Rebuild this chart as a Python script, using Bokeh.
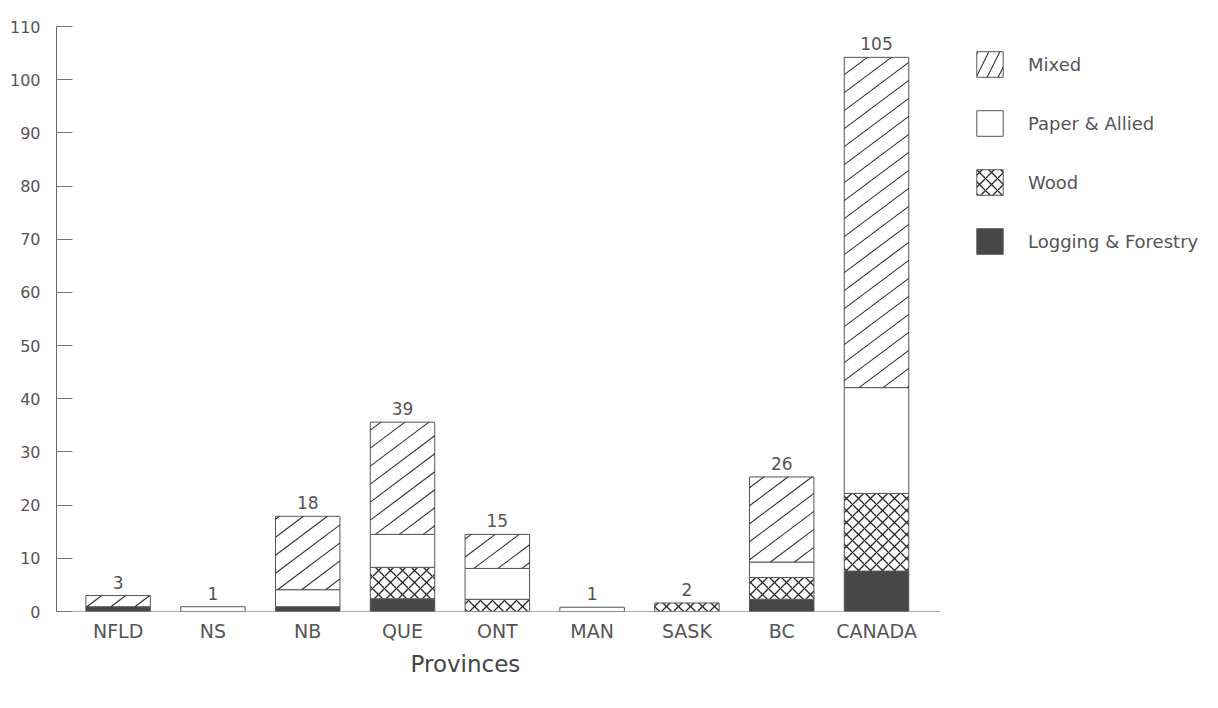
import math
from bokeh.plotting import figure
from bokeh.models import Range1d, FixedTicker, Legend, LegendItem, ColumnDataSource, Title
from bokeh.core.properties import value
from bokeh.embed import file_html
from bokeh.resources import INLINE

# ---- data ----
provinces = ["NFLD", "NS", "NB", "QUE", "ONT", "MAN", "SASK", "BC", "CANADA"]
logging_forestry = [0.9, 0.0, 0.9, 2.4, 0.0, 0.0, 0.0, 2.3, 7.6]
wood = [0.0, 0.0, 0.0, 5.9, 2.3, 0.0, 1.6, 4.1, 14.6]
paper_allied = [0.0, 0.9, 3.2, 6.2, 5.8, 0.8, 0.0, 2.9, 19.9]
mixed = [2.1, 0.0, 13.8, 21.1, 6.4, 0.0, 0.0, 16.0, 62.1]
total_labels = ["3", "1", "18", "39", "15", "1", "2", "26", "105"]
y_ticks = list(range(0, 111, 10))
series_names = ["Logging & Forestry", "Wood", "Paper & Allied", "Mixed"]
legend_order = ["Mixed", "Paper & Allied", "Wood", "Logging & Forestry"]
x_title = "Provinces"

# ---- layout / style constants ----
FONT = "DejaVu Sans"
TXT = "#555555"
LINE = "#555555"
HATCH = "#333333"
FIG_W, FIG_H = 1216, 690
B_LEFT, B_RIGHT, B_TOP, B_BOTTOM = 56, 4, 26, 79
X_START = -0.65
AXIS_END = 8.675                     # where the drawn x-axis line stops
AXIS_LEN_PX = 884                    # on-screen length of that line
PX_X = AXIS_LEN_PX / (AXIS_END - X_START)
X_END = X_START + (FIG_W - B_LEFT - B_RIGHT) / PX_X
Y_START, Y_END = 0, 110
BAR_W = 0.68
HATCH_SLOPE = 0.75      # screen slope of the "Mixed" hatch lines
HATCH_STEP = 18         # vertical spacing of hatch lines, px

p = figure(width=FIG_W, height=FIG_H, output_backend="svg", toolbar_location=None,
           x_range=Range1d(X_START, X_END), y_range=Range1d(Y_START, Y_END),
           min_border_left=B_LEFT, min_border_right=B_RIGHT, min_border_top=B_TOP,
           min_border_bottom=B_BOTTOM)
p.outline_line_color = None
p.xgrid.visible = False
p.ygrid.visible = False
p.background_fill_color = "white"

styles = {
    "Logging & Forestry": dict(fill_color="#474747"),
    "Wood": dict(fill_color="white", hatch_pattern="diagonal_cross", hatch_scale=12,
                 hatch_color="#2a2a2a", hatch_weight=1.3),
    "Paper & Allied": dict(fill_color="white"),
    "Mixed": dict(fill_color="white"),
}

# x-axis base line (stops short of the legend area)
p.segment(x0=[X_START], y0=[Y_START], x1=[AXIS_END], y1=[Y_START],
          line_color="#666666", line_width=1)

series = [logging_forestry, wood, paper_allied, mixed]
xs = list(range(len(provinces)))
bottom = [0.0] * len(provinces)
renderers = {}
sources = {}
for name, vals in zip(series_names, series):
    bx, bb, bt = [], [], []
    for i, v in enumerate(vals):
        if v > 0:
            bx.append(xs[i]); bb.append(bottom[i]); bt.append(bottom[i] + v)
    src = ColumnDataSource(dict(x=bx, bottom=bb, top=bt))
    sources[name] = src
    r = p.vbar(x="x", bottom="bottom", top="top", width=BAR_W, source=src,
               line_color=LINE, line_width=1, **styles[name])
    renderers[name] = r
    bottom = [b + v for b, v in zip(bottom, vals)]

# ---- "Mixed" hatching: gentle "/" lines clipped to each Mixed bar ----
px_y = (FIG_H - B_TOP - B_BOTTOM) / (Y_END - Y_START)
msrc = sources["Mixed"].data
hx0, hy0, hx1, hy1 = [], [], [], []
for x, b, t in zip(msrc["x"], msrc["bottom"], msrc["top"]):
    xl = (x - BAR_W / 2 - X_START) * PX_X
    xr = (x + BAR_W / 2 - X_START) * PX_X
    yb = (b - Y_START) * px_y
    yt = (t - Y_START) * px_y
    cmin = yb - HATCH_SLOPE * xr
    cmax = yt - HATCH_SLOPE * xl
    k = math.ceil(cmin / HATCH_STEP)
    while k * HATCH_STEP < cmax:
        c = k * HATCH_STEP
        xa = max(xl, (yb - c) / HATCH_SLOPE)
        xb = min(xr, (yt - c) / HATCH_SLOPE)
        if xb - xa > 0.5:
            hx0.append(xa / PX_X + X_START); hy0.append((HATCH_SLOPE * xa + c) / px_y + Y_START)
            hx1.append(xb / PX_X + X_START); hy1.append((HATCH_SLOPE * xb + c) / px_y + Y_START)
        k += 1
p.segment(x0=hx0, y0=hy0, x1=hx1, y1=hy1, line_color=HATCH, line_width=1.1)

# legend swatch for "Mixed" (same bars, hidden, drawn with a diagonal hatch)
mixed_key = p.vbar(x="x", bottom="bottom", top="top", width=BAR_W, source=sources["Mixed"],
                   fill_color="white", line_color=LINE, line_width=1,
                   hatch_pattern="/", hatch_scale=22, hatch_color=HATCH, hatch_weight=1.1,
                   visible=False)
legend_renderers = dict(renderers)
legend_renderers["Mixed"] = mixed_key

# total labels above the bars
lab_src = ColumnDataSource(dict(x=xs, y=bottom, t=total_labels))
p.text(x="x", y="y", text="t", source=lab_src, text_align="center",
       text_baseline="bottom", y_offset=-7, text_font=value(FONT),
       text_font_size="17px", text_color=TXT)

# axes
p.yaxis.ticker = FixedTicker(ticks=y_ticks)
p.yaxis.major_tick_in = 16
p.yaxis.major_tick_out = 0
p.yaxis.minor_tick_line_color = None
p.yaxis.major_label_standoff = 16
p.yaxis.major_label_text_font = FONT
p.yaxis.major_label_text_font_size = "16px"
p.yaxis.major_label_text_color = TXT
p.yaxis.axis_line_color = "#666666"
p.yaxis.major_tick_line_color = "#777777"

p.xaxis.ticker = FixedTicker(ticks=xs)
p.xaxis.major_label_overrides = {i: n for i, n in enumerate(provinces)}
p.xaxis.axis_line_color = None
p.xaxis.major_tick_line_color = None
p.xaxis.minor_tick_line_color = None
p.xaxis.major_label_standoff = 2
p.xaxis.major_label_text_font = FONT
p.xaxis.major_label_text_font_size = "19px"
p.xaxis.major_label_text_color = TXT

# x-axis title, placed under the province labels
p.add_layout(Title(text=x_title, align="left", offset=354, standoff=8,
                   text_font=FONT, text_font_size="23px", text_font_style="normal",
                   text_color="#444444"), "below")

legend = Legend(items=[LegendItem(label=n, renderers=[legend_renderers[n]]) for n in legend_order],
                location=(917, 354), glyph_width=33, glyph_height=32, spacing=27,
                padding=0, margin=0, border_line_color=None, background_fill_alpha=0,
                label_standoff=22, label_text_font=FONT, label_text_font_size="18px",
                label_text_color=TXT)
p.add_layout(legend, "center")

open("out.html", "w").write(file_html(p, INLINE))
